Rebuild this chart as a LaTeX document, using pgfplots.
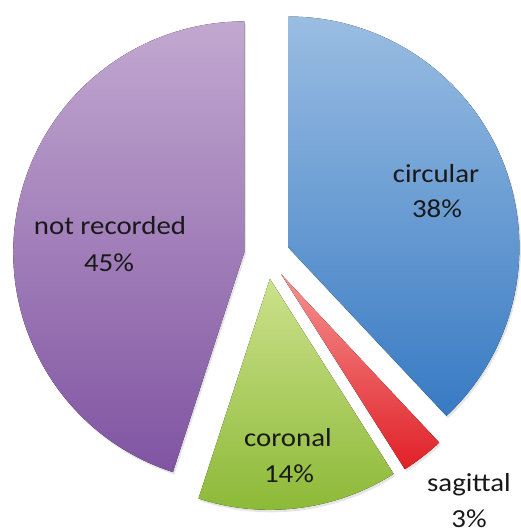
\documentclass[border=0pt]{standalone}
\usepackage{pgfplots}
\pgfplotsset{compat=1.18}
\usepackage{pgfplotstable}
\usepackage{fontspec}
\setmainfont{Carlito}
\usetikzlibrary{calc}

% share of each plane, clockwise from the top; lx/ly and px/py are the
% baselines of the name and of the percentage
\pgfplotstableread[col sep=comma]{
name,pct,lx,ly,px,py
circular,38,436,349,437,314
sagittal,3,469,40,469,5
coronal,14,288,85,289,49
not recorded,45,110,297,109,260
}\piedata

\definecolor{top0}{RGB}{154,189,226}
\definecolor{bot0}{RGB}{55,122,195}
\definecolor{top1}{RGB}{246,146,146}
\definecolor{bot1}{RGB}{224,32,38}
\definecolor{top2}{RGB}{204,225,140}
\definecolor{bot2}{RGB}{138,184,52}
\definecolor{top3}{RGB}{194,168,208}
\definecolor{bot3}{RGB}{128,84,162}

\begin{document}
\begin{tikzpicture}
% pie centre, radius and explode distance (axis units = pt)
\xdef\cx{267}\xdef\cy{276}\xdef\rr{231}\xdef\ex{23}
\pgfmathsetmacro\acc{0}
\pgfplotsforeachungrouped \i in {0,1,2,3}{%
  \pgfplotstablegetelem{\i}{pct}\of\piedata \let\p\pgfplotsretval
  \pgfmathsetmacro\a{90-3.6*\acc}%
  \pgfmathsetmacro\acc{\acc+\p}%
  \pgfmathsetmacro\b{90-3.6*\acc}%
  \pgfmathsetmacro\m{(\a+\b)/2}%
  \expandafter\xdef\csname sa\i\endcsname{\a}%
  \expandafter\xdef\csname sb\i\endcsname{\b}%
  \expandafter\xdef\csname sm\i\endcsname{\m}%
  \expandafter\xdef\csname pc\i\endcsname{\p}%
  \pgfplotstablegetelem{\i}{name}\of\piedata
  \expandafter\xdef\csname nm\i\endcsname{\pgfplotsretval}%
  \pgfplotstablegetelem{\i}{lx}\of\piedata
  \expandafter\xdef\csname lx\i\endcsname{\pgfplotsretval}%
  \pgfplotstablegetelem{\i}{ly}\of\piedata
  \expandafter\xdef\csname ly\i\endcsname{\pgfplotsretval}%
  \pgfplotstablegetelem{\i}{px}\of\piedata
  \expandafter\xdef\csname px\i\endcsname{\pgfplotsretval}%
  \pgfplotstablegetelem{\i}{py}\of\piedata
  \expandafter\xdef\csname py\i\endcsname{\pgfplotsretval}%
}
\begin{axis}[hide axis, x=1pt, y=1pt, xmin=0, xmax=520, ymin=0, ymax=532,
  clip=false]
\pgfplotsinvokeforeach{0,...,3}{
  % soft shadow
  \fill[black, opacity=0.10, xshift=1.5pt, yshift=-2.5pt]
    ($(axis cs:\cx,\cy)+(\csname sm#1\endcsname:\ex pt)$)
    -- ++(\csname sa#1\endcsname:\rr pt)
    arc[start angle=\csname sa#1\endcsname, end angle=\csname sb#1\endcsname, radius=\rr pt]
    -- cycle;
  \fill[top color=top#1, bottom color=bot#1]
    ($(axis cs:\cx,\cy)+(\csname sm#1\endcsname:\ex pt)$)
    -- ++(\csname sa#1\endcsname:\rr pt)
    arc[start angle=\csname sa#1\endcsname, end angle=\csname sb#1\endcsname, radius=\rr pt]
    -- cycle;
  \node[anchor=base, xscale=1.11, text=black!90, font=\fontsize{26}{30}\selectfont]
    at (axis cs:\csname lx#1\endcsname,\csname ly#1\endcsname) {\csname nm#1\endcsname};
  \node[anchor=base, xscale=1.11, text=black!90, font=\fontsize{26}{30}\selectfont]
    at (axis cs:\csname px#1\endcsname,\csname py#1\endcsname) {\csname pc#1\endcsname\%};
}
\coordinate (ll) at (axis cs:0,0);
\coordinate (ur) at (axis cs:520,532);
\end{axis}
% the arcs' control points reach past the pie, so the page is the axis box
\pgfresetboundingbox
\useasboundingbox (ll) rectangle (ur);
\end{tikzpicture}
\end{document}
